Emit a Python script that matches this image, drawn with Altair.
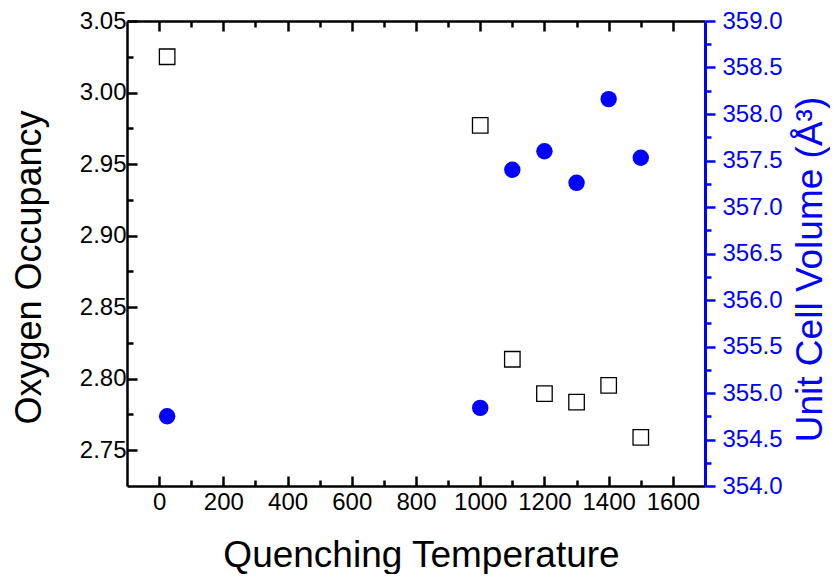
import altair as alt
import pandas as pd

# Data
temps = [25, 1000, 1100, 1200, 1300, 1400, 1500]
oxygen = [3.025, 2.977, 2.8136, 2.7895, 2.7836, 2.7953, 2.759]
volume = [354.75, 354.84, 357.40, 357.60, 357.26, 358.16, 357.53]

x_ticks = list(range(0, 1700, 100))
y_left_ticks = [round(2.75 + 0.025 * i, 3) for i in range(13)]
y_right_ticks = [round(354.0 + 0.25 * i, 2) for i in range(21)]

FONT = "Liberation Sans"
BLUE = "#0000ff"

df_o = pd.DataFrame({"T": temps, "O": oxygen})
df_v = pd.DataFrame({"T": temps, "V": volume})

x_scale = alt.Scale(domain=[-100, 1700], nice=False, zero=False)

x_major = "datum.value % 200 == 0"
yl_major = "abs(datum.value*20 - round(datum.value*20)) < 0.001"
yr_major = "abs(datum.value*2 - round(datum.value*2)) < 0.001"

squares = alt.Chart(df_o).mark_point(
    shape="square", filled=False, stroke="black", strokeWidth=1.3, size=240, opacity=1
).encode(
    x=alt.X("T:Q", scale=x_scale, axis=alt.Axis(
        orient="bottom", values=x_ticks, format="d",
        labelExpr=f"{x_major} ? datum.label : ''",
        labelFont=FONT, labelFontSize=24, labelColor="black",
        labelPadding=14, labelOverlap=False, labelFlush=False, labelBound=False,
        tickSize=alt.ExprRef(f"({x_major}) ? -10 : -6"),
        tickWidth=2.5, tickColor="black",
        domainColor="black", domainWidth=2.5, grid=False,
        title="Quenching Temperature", titleFont=FONT, titleFontSize=37,
        titleFontWeight="normal", titleColor="black",
        titleX=294, titleY=80, titleBaseline="alphabetic", titleAlign="center", titleAngle=0,
    )),
    y=alt.Y("O:Q", scale=alt.Scale(domain=[2.725, 3.05], nice=False, zero=False), axis=alt.Axis(
        orient="left", values=y_left_ticks, format=".2f",
        labelExpr=f"{yl_major} ? datum.label : ''",
        labelFont=FONT, labelFontSize=24, labelColor="black",
        labelPadding=11, labelOverlap=False, labelFlush=False, labelBound=False,
        tickSize=alt.ExprRef(f"({yl_major}) ? -10 : -6"),
        tickWidth=2.5, tickColor="black",
        domainColor="black", domainWidth=2.5, grid=False,
        title="Oxygen Occupancy", titleFont=FONT, titleFontSize=36,
        titleFontWeight="normal", titleColor="black",
        titleAngle=270, titleX=-87, titleY=246, titleBaseline="alphabetic", titleAlign="center",
    )),
)

circles = alt.Chart(df_v).mark_point(
    shape="circle", filled=True, fill=BLUE, stroke=BLUE, strokeWidth=0, size=270, opacity=1
).encode(
    x=alt.X("T:Q", scale=x_scale, axis=alt.Axis(
        orient="top", values=x_ticks, labels=False, title=None,
        tickSize=alt.ExprRef(f"({x_major}) ? -10 : -6"),
        tickWidth=2.5, tickColor="black",
        domainColor="black", domainWidth=2.5, grid=False,
    )),
    y=alt.Y("V:Q", scale=alt.Scale(domain=[354.0, 359.0], nice=False, zero=False), axis=alt.Axis(
        orient="right", values=y_right_ticks, format=".1f",
        labelExpr=f"{yr_major} ? datum.label : ''",
        labelFont=FONT, labelFontSize=24, labelColor=BLUE,
        labelPadding=7, labelOverlap=False, labelFlush=False, labelBound=False,
        tickSize=alt.ExprRef(f"({yr_major}) ? 10 : 6"),
        tickWidth=2.5, tickColor=BLUE,
        domainColor=BLUE, domainWidth=3, grid=False,
        title="Unit Cell Volume (Å³)", titleFont=FONT, titleFontSize=37,
        titleFontWeight="normal", titleColor=BLUE,
        titleAngle=270, titleX=116, titleY=248, titleBaseline="alphabetic", titleAlign="center",
    )),
)

chart = alt.layer(squares, circles).resolve_scale(
    y="independent"
).resolve_axis(
    x="independent", y="independent"
).properties(
    width=578, height=465,
    padding={"left": 119, "top": 13, "right": 125, "bottom": 88},
    autosize=alt.AutoSizeParams(type="none"),
    background="white",
).configure_view(stroke=None)

chart.save("out.html", embed_options={"renderer": "svg", "actions": False})
